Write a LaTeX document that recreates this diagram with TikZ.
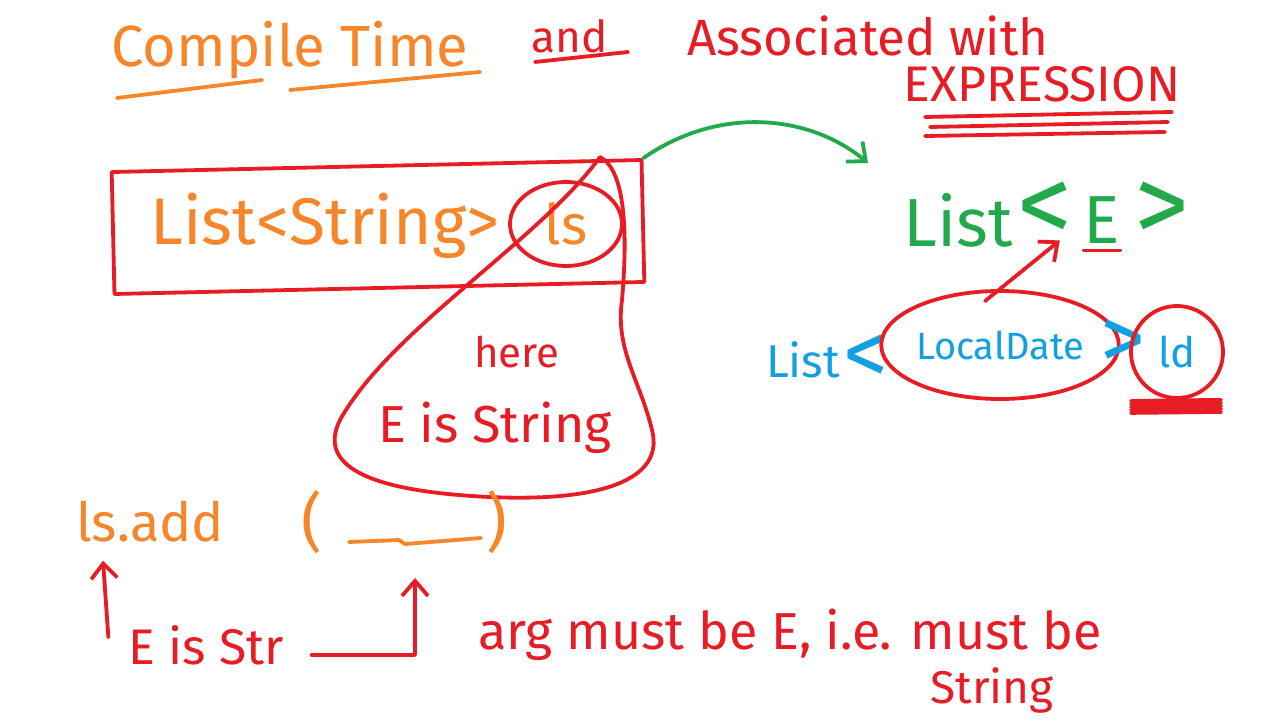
\documentclass[tikz,border=0pt]{standalone}
\usepackage{fontspec}
\setmainfont{Fira Sans}
\usetikzlibrary{positioning,shapes.geometric,arrows.meta}
\definecolor{penorange}{HTML}{F7862A}
\definecolor{penred}{HTML}{E81C24}
\definecolor{pengreen}{HTML}{22AA4A}
\definecolor{penblue}{HTML}{12A0E0}
\newcommand{\pen}[1]{\fontsize{#1}{#1}\selectfont}

\begin{document}
\begin{tikzpicture}[
  x=1pt, y=-1pt,
  ink/.style={line width=3.8pt, line cap=round, line join=round},
  word/.style={inner sep=0pt, outer sep=0pt},
  arr/.style={ink, -{Straight Barb[length=15pt,width=26pt]}},
]
\fill[white] (0,0) rectangle (1283,722);
\useasboundingbox (0,0) rectangle (1283,722);

% heading
\node[word, text=penorange, font=\pen{58}] (title) at (290,50) {Compile Time};
\node[word, text=penred, font=\pen{44}] (andw) at (570,36) {and};
\node[word, text=penred, font=\pen{51}] (assoc) at (868,36) {Associated with};
\node[word, text=penred, font=\pen{50}] (expr) at (1042,84) {EXPRESSION};
\draw[ink, penorange] (117,98) -- (262,80);
\draw[ink, penorange] (290,90) -- (480,72);
\draw[ink, penred] (535,62) -- (628,52);
\draw[ink, penred] (925,117) -- (1172,112);
\draw[ink, penred] (930,127) -- (1168,122);
\draw[ink, penred] (925,136) -- (1165,132);

% declaration in the box
\node[draw=penred, ink, rectangle, minimum width=530pt, minimum height=122pt, rotate=1.3] (declbox) at (378,227) {};
\node[word, text=penorange, font=\pen{66}] (strtype) at (325,226) {List<String>};
\node[ellipse, draw=penred, ink, text=penorange, font=\pen{56}, inner sep=0pt,
      minimum width=112pt, minimum height=84pt] (lsvar) at (566,224) {ls};

% loop from ls
\draw[ink, penred] (600,157) .. controls (540,240) and (390,330) .. (340,420)
  .. controls (315,470) and (380,492) .. (490,497)
  .. controls (600,502) and (665,480) .. (652,430)
  .. controls (640,380) and (615,350) .. (622,300)
  .. controls (628,230) and (625,170) .. (600,157);
\node[word, text=penred, font=\pen{42}] (here) at (517,352) {here};
\node[word, text=penred, font=\pen{52}] (eisstring) at (495,428) {E is String};

% generic type
\coordinate (gtip) at (868,163);
\draw[arr, pengreen] (declbox.north east) .. controls (720,105) and (810,115) .. (gtip);
\node[word, text=pengreen, font=\pen{68}] (glist) at (958,220) {List};
\node[word, text=pengreen, font=\pen{110}] (gopen) at (1045,212) {<};
\node[word, text=pengreen, font=\pen{68}] (gE) at (1102,220) {E};
\node[word, text=pengreen, font=\pen{110}] (gclose) at (1162,212) {>};
\draw[ink, penred] ([yshift=-7pt]gE.south west) -- ([yshift=-7pt]gE.south east);

% LocalDate example
\node[word, text=penblue, font=\pen{46}] (blist) at (803,360) {List};
\node[word, text=penblue, font=\pen{90}, right=4pt of blist] (blopen) {<};
\node[ellipse, draw=penred, ink, text=penblue, font=\pen{38}, inner sep=0pt,
      minimum width=205pt, minimum height=108pt] (ldtype) at (1000,345) {LocalDate};
\node[word, text=penblue, font=\pen{90}, right=-20pt of ldtype] (blclose) {>};
\node[circle, draw=penred, ink, text=penblue, font=\pen{42}, inner sep=0pt,
      minimum size=92pt] (ldvar) at (1177,352) {ld};
\foreach \k in {0,1,2,3,4}
  \draw[ink, penred] ([shift={(-46pt,{-1pt-3pt*\k})}]ldvar.south) -- ([shift={(44pt,{-3pt*\k})}]ldvar.south);
\draw[arr, penred] ([xshift=-15pt,yshift=-12pt]ldtype.north) -- ([xshift=-24pt,yshift=3pt]gE.south west);

% call
\node[word, text=penorange, font=\pen{54}] (lsadd) at (150,522) {ls.add};
\node[word, text=penorange, font=\pen{64}] (lparen) at (312,522) {(};
\node[word, minimum width=132pt, minimum height=30pt] (blank) at (415,527) {};
\draw[ink, penorange] (blank.south west) -- ([xshift=50pt,yshift=2pt]blank.south west)
  -- ([xshift=56pt,yshift=-2pt]blank.south west) -- ([yshift=4pt]blank.south east);
\node[word, text=penorange, font=\pen{64}] (rparen) at (497,522) {)};

% notes below
\node[word, text=penred, font=\pen{50}] (eisstr) at (206,645) {E is Str};
\draw[arr, penred] ([xshift=-20pt,yshift=-12pt]eisstr.north west) -- ([xshift=27pt,yshift=-18pt]lsadd.south west);
\draw[arr, penred] ([xshift=28pt,yshift=-10pt]eisstr.east) -| ([yshift=-36pt]blank.south);
\node[word, text=penred, font=\pen{52}] (argtext) at (790,635) {arg must be E, i.e. must be};
\node[word, text=penred, font=\pen{46}] (strword) at (992,690) {String};

\end{tikzpicture}
\end{document}
